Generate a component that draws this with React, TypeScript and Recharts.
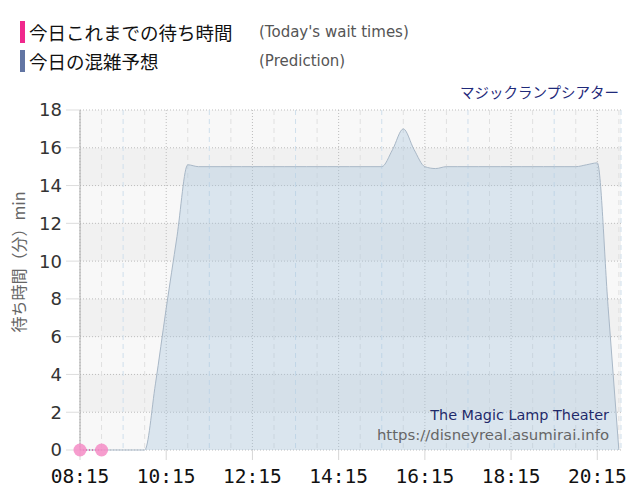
import React from 'react';
import { ComposedChart, Area, Line, Scatter, XAxis, YAxis, CartesianGrid } from 'recharts';

// time in minutes since midnight
const predTimes = [495, 510, 525, 540, 555, 570, 585, 600, 615, 630, 645, 660, 675, 690, 705, 720, 735, 750, 765, 780, 795, 810, 825, 840, 855, 870, 885, 900, 915, 930, 945, 960, 975, 990, 1005, 1020, 1035, 1050, 1065, 1080, 1095, 1110, 1125, 1140, 1155, 1170, 1185, 1200, 1215, 1230, 1245];
const predValues = [0, 0, 0, 0, 0, 0, 0, 3.5, 7.5, 11.3, 15.1, 15.0, 15.0, 15.0, 15.0, 15.0, 15.0, 15.0, 15.0, 15.0, 15.0, 15.0, 15.0, 15.0, 15.0, 15.0, 15.0, 15.0, 15.0, 15.9, 17.0, 15.9, 15.0, 14.9, 15.0, 15.0, 15.0, 15.0, 15.0, 15.0, 15.0, 15.0, 15.0, 15.0, 15.0, 15.0, 15.0, 15.1, 15.2, 7.6, 0];

const waitTimes = [495, 525];
const waitValues = [0, 0];

const xDomain = [495, 1248];
const xLabelTicks = [495, 615, 735, 855, 975, 1095, 1215];
const halfHourLines = [525, 585, 645, 705, 765, 825, 885, 945, 1005, 1065, 1125, 1185, 1245];
const hourLines = [555, 675, 795, 915, 1035, 1155, 1248];
const yTicks = [0, 2, 4, 6, 8, 10, 12, 14, 16, 18];

const predData = predTimes.map((t, i) => ({ t, p: predValues[i] }));
const waitData = waitTimes.map((t, i) => ({ t, v: waitValues[i] }));

const fmt = (m: number) => {
  const h = Math.floor(m / 60);
  const mm = m % 60;
  return `${String(h).padStart(2, '0')}:${String(mm).padStart(2, '0')}`;
};

const gen = (vals: number[]) => (props: any) => {
  const xAxis = props?.xAxis;
  const offset = props?.offset;
  return vals.map((v) => {
    const s = xAxis?.scale;
    if (typeof s === 'function') {
      const r = s(v);
      if (typeof r === 'number' && !isNaN(r)) return r;
    }
    return offset.left + ((v - xDomain[0]) / (xDomain[1] - xDomain[0])) * offset.width;
  });
};

const YLabel = (props: any) => {
  const vb = props.viewBox || { x: 0, y: 110, width: 80, height: 340 };
  const cx = vb.x + 18;
  const cy = vb.y + vb.height / 2 - 18;
  return (
    <text
      x={cx}
      y={cy}
      transform={`rotate(-90, ${cx}, ${cy})`}
      textAnchor="middle"
      dominantBaseline="central"
      fill="#666"
      fontSize={16}
      fontFamily="'Noto Sans CJK JP', 'DejaVu Sans', sans-serif"
    >
      待ち時間（分）min
    </text>
  );
};

const PinkDot = (props: any) => {
  const { cx, cy } = props;
  if (cx == null || cy == null) return null;
  return <circle cx={cx} cy={cy} r={6.5} fill="#f48cc6" fillOpacity={0.85} stroke="none" />;
};

export default function App() {
  return (
    <div style={{ position: 'absolute', left: 0, top: 0, width: 640, height: 500, background: '#fff', fontFamily: "'DejaVu Sans', sans-serif" }}>
      {/* Legend */}
      <div style={{ position: 'absolute', left: 20, top: 21, width: 5, height: 22, background: '#f0288c' }} />
      <div style={{ position: 'absolute', left: 20, top: 50, width: 5, height: 22, background: '#6275a3' }} />
      <div style={{ position: 'absolute', left: 29, top: 18, fontSize: 18.5, lineHeight: '28px', color: '#111', fontFamily: "'Noto Sans CJK JP', sans-serif", whiteSpace: 'nowrap' }}>今日これまでの待ち時間</div>
      <div style={{ position: 'absolute', left: 29, top: 47, fontSize: 18.5, lineHeight: '28px', color: '#111', fontFamily: "'Noto Sans CJK JP', sans-serif", whiteSpace: 'nowrap' }}>今日の混雑予想</div>
      <div style={{ position: 'absolute', left: 259, top: 21, fontSize: 15, lineHeight: '22px', color: '#555', whiteSpace: 'nowrap' }}>(Today's wait times)</div>
      <div style={{ position: 'absolute', left: 259, top: 50, fontSize: 15, lineHeight: '22px', color: '#555', whiteSpace: 'nowrap' }}>(Prediction)</div>
      {/* Title */}
      <div style={{ position: 'absolute', right: 21, top: 81, fontSize: 14.5, lineHeight: '22px', color: '#1f2a7a', fontFamily: "'Noto Sans CJK JP', sans-serif", whiteSpace: 'nowrap' }}>マジックランプシアター</div>

      <div style={{ position: 'absolute', left: 0, top: 0 }}>
        <ComposedChart width={640} height={500} data={predData} margin={{ top: 110, right: 19, bottom: 10, left: 0 }}>
          <CartesianGrid
            horizontal={true}
            vertical={true}
            verticalCoordinatesGenerator={gen(xLabelTicks)}
            horizontalFill={['#f8f8f8', '#f1f1f1']}
            stroke="#bdbdbd"
            strokeDasharray="1 2"
          />
          <CartesianGrid
            horizontal={false}
            vertical={true}
            verticalCoordinatesGenerator={gen(halfHourLines)}
            stroke="#e0e0e0"
            strokeDasharray="5 4"
          />
          <CartesianGrid
            horizontal={false}
            vertical={true}
            verticalCoordinatesGenerator={gen(hourLines)}
            stroke="#cfdfec"
            strokeDasharray="5 4"
          />
          <XAxis
            type="number"
            dataKey="t"
            domain={xDomain}
            ticks={xLabelTicks}
            tickFormatter={fmt}
            axisLine={false}
            tickLine={{ stroke: '#d6d6d6' }}
            tickSize={10}
            tickMargin={9}
            height={40}
            interval={0}
            tick={{ fill: '#111', fontSize: 19.5, fontFamily: "'DejaVu Sans Mono', monospace" }}
          />
          <YAxis
            type="number"
            domain={[0, 18]}
            ticks={yTicks}
            width={80}
            axisLine={{ stroke: '#aaaaaa' }}
            tickLine={{ stroke: '#dddddd' }}
            tickSize={14}
            tickMargin={4}
            interval={0}
            tick={{ fill: '#333', fontSize: 18, fontFamily: "'DejaVu Sans', sans-serif" }}
            label={<YLabel />}
          />
          <Area
            type="monotone"
            dataKey="p"
            stroke="#a9b8c7"
            strokeWidth={1}
            fill="#a9c4dd"
            fillOpacity={0.38}
            isAnimationActive={false}
            dot={false}
            activeDot={false}
          />
          <Scatter
            data={waitData}
            dataKey="v"
            shape={<PinkDot />}
            isAnimationActive={false}
          />
          <Line
            data={waitData}
            type="linear"
            dataKey="v"
            stroke="#e91e8c"
            strokeWidth={1}
            strokeDasharray="1 2"
            dot={false}
            activeDot={false}
            isAnimationActive={false}
          />
        </ComposedChart>
      </div>

      {/* Watermark */}
      <div style={{ position: 'absolute', right: 31, top: 405, fontSize: 14.4, lineHeight: '20px', color: '#1f2a6a', whiteSpace: 'nowrap', textAlign: 'right' }}>The Magic Lamp Theater</div>
      <div style={{ position: 'absolute', right: 31, top: 425, fontSize: 14.9, lineHeight: '20px', color: '#666', whiteSpace: 'nowrap', textAlign: 'right' }}>https://disneyreal.asumirai.info</div>
    </div>
  );
}
